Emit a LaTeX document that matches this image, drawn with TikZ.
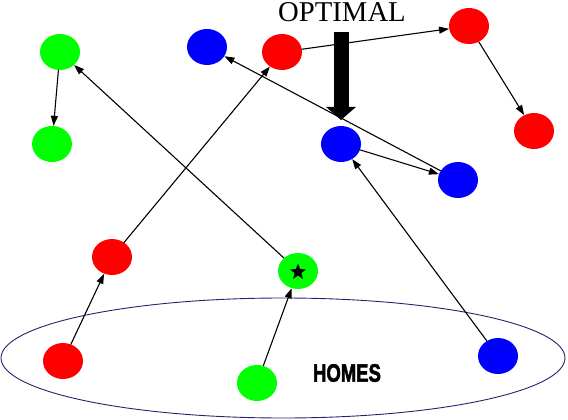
\documentclass[tikz,border=0pt]{standalone}
\usepackage{fontspec}
\newfontfamily\optfont{Liberation Serif}
\newfontfamily\homefont{Liberation Sans}[BoldFeatures={FakeBold=2.5}]
\usetikzlibrary{arrows.meta,shapes.geometric}

\definecolor{homeline}{RGB}{45,30,110}

\begin{document}
\begin{tikzpicture}[
    x=1pt, y=-1pt,
    >={Triangle[length=10pt,width=7pt]},
    line cap=round,
    line join=round,
    spot/.style={ellipse, minimum width=40pt, minimum height=36pt, inner sep=0pt},
    gspot/.style={spot, fill=green},
    rspot/.style={spot, fill=red},
    bspot/.style={spot, fill=blue},
    hop/.style={->, line width=1.1pt}
]

% Frame
\useasboundingbox (0,0) rectangle (568,420);

% Homes region
\draw[homeline, line width=0.9pt] (283,358) ellipse [x radius=282, y radius=60];
\node[font=\homefont\bfseries\fontsize{25}{25}\selectfont, xscale=0.74, inner sep=0pt] (homes) at (347,373) {HOMES};

% Green tour
\node[gspot] (g1) at (60,52) {};
\node[gspot] (g2) at (52,144) {};
\node[gspot] (g3) at (298,271) {};
\node[gspot] (g4) at (257,383) {};
\node[star, star points=5, star point ratio=2.4, fill=black, minimum size=17pt, inner sep=0pt] (mark) at (298,272) {};

% Red tour
\node[rspot] (r1) at (63,361) {};
\node[rspot] (r2) at (112,257) {};
\node[rspot] (r3) at (282,52) {};
\node[rspot] (r4) at (469,26) {};
\node[rspot] (r5) at (534,131) {};

% Blue tour
\node[bspot] (b1) at (207,47) {};
\node[bspot] (b2) at (341,144) {};
\node[bspot] (b3) at (458,180) {};
\node[bspot] (b4) at (498,356) {};

% Routes
\draw[hop] (g4) -- (g3);
\draw[hop] (g3) -- (g1);
\draw[hop] (g1) -- (g2);

\draw[hop] (r1) -- (r2);
\draw[hop] (r2) -- (r3);
\draw[hop] (r3) -- (r4);
\draw[hop] (r4) -- (r5);

\draw[hop] (b4) -- (b2);
\draw[hop] (b2) -- (b3);
\draw[hop] (b3) -- (b1);

% Label and pointer
\node[font=\optfont\fontsize{28.7}{28.7}\selectfont, inner sep=0pt] (opt) at (342,12) {OPTIMAL};
\coordinate (opttop) at (341,32);
\coordinate (opttip) at (341,120);
\draw[line width=15pt, line cap=butt, -{Triangle[length=13pt,width=29pt]}] (opttop) -- (opttip);

\end{tikzpicture}
\end{document}
